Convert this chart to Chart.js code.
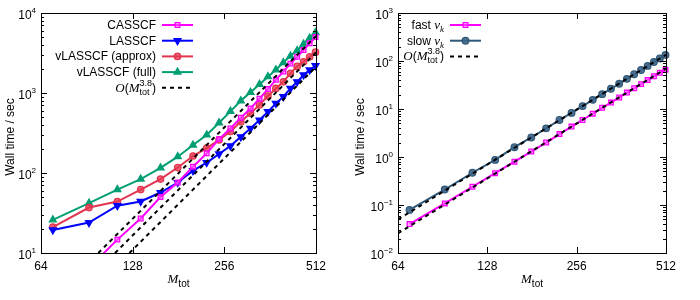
<!DOCTYPE html>
<html>
<head>
<meta charset="utf-8">
<script src="https://cdn.jsdelivr.net/npm/chart.js@4.4.1/dist/chart.umd.min.js"></script>
<style>
html, body { margin: 0; padding: 0; background: #fff; }
#wrap { position: relative; width: 700px; height: 300px; }
canvas { position: absolute; top: 0; }
#left { left: 0; }
#right { left: 350px; }
</style>
</head>
<body>
<div id="wrap">
    <canvas id="left" width="350" height="300"></canvas>
    <canvas id="right" width="350" height="300"></canvas>
</div>
<script>
// M_tot values shared by both panels
const mTot = [70, 92, 114, 136, 158, 180, 202, 224, 246, 268, 290, 312, 334, 356, 378, 400, 422, 444, 466, 488, 510];
const xTicks = [64, 128, 256, 512];

// left panel: wall time / sec
const casscf      = [null, 6.5, 14.7, 27, 50, 76, 120, 176, 265, 360, 490, 640, 850, 1120, 1460, 1850, 2330, 2830, 3450, 4180, 5000];
const lasscf      = [19.4, 24, 39, 44, 57, 76, 107, 135, 173, 218, 283, 361, 459, 584, 740, 900, 1140, 1380, 1680, 1940, 2190];
const vlassApprox = [21, 37, 44, 62, 84, 117, 163, 205, 259, 330, 437, 560, 710, 916, 1140, 1380, 1760, 2150, 2460, 2830, 3240];
const vlassFull   = [26, 42, 62, 84, 116, 160, 224, 299, 425, 590, 800, 1020, 1280, 1600, 1950, 2400, 2900, 3400, 4100, 4850, 5700];

// left panel O(M^3.8) guide lines: [start, end]
const casscfFitM = [98.7, 512], casscfFitT = [10, 5150];
const approxFitM = [112, 512],  approxFitT = [10, 3200];
const lasscfFitM = [124.9, 512], lasscfFitT = [10, 2120];

// right panel
const fastVk = [0.040, 0.108, 0.24, 0.46, 0.80, 1.30, 2.0, 3.0, 4.3, 5.9, 8.0, 10.6, 13.6, 17.4, 22, 27, 33, 40, 48, 57, 66];
const slowVk = [0.079, 0.21, 0.47, 0.87, 1.6, 2.55, 3.95, 5.9, 8.3, 11.5, 15.5, 20.4, 26.4, 33.5, 42.5, 53, 65, 79, 95, 113, 134];
const fastFitM = [64, 512], fastFitT = [0.0257, 69.5];
const slowFitM = [64, 512], slowFitT = [0.050, 135];

const SANS = '"Liberation Sans", Arial, sans-serif';
const SERIF = '"Liberation Serif", "Times New Roman", serif';

function pts(xs, ys) {
    return xs.map((x, i) => ({ x: x, y: ys[i] })).filter(p => p.y !== null);
}

function dataSet(s) {
    return {
        label: s.label,
        data: pts(mTot, s.data),
        borderColor: s.color,
        backgroundColor: s.fill,
        borderWidth: 2,
        pointStyle: s.style,
        pointRadius: s.r,
        pointRotation: s.rot || 0,
        pointBorderColor: s.color,
        pointBackgroundColor: s.fill,
        pointBorderWidth: 1.3,
        tension: 0,
        order: 1,
        clip: { left: 0, top: 6, right: 6, bottom: 0 }
    };
}

function fitSet(xs, ys) {
    return {
        data: pts(xs, ys),
        borderColor: '#000',
        borderWidth: 2,
        borderDash: [4, 4],
        pointRadius: 0,
        tension: 0,
        order: 0,
        clip: 0
    };
}

// draws a list of text parts; part = [text, font, dy] or {sup, sub, font}
function richText(ctx, parts, x, y, align) {
    const widths = parts.map(p => {
        if (Array.isArray(p)) { ctx.font = p[1]; return ctx.measureText(p[0]).width; }
        ctx.font = p.font;
        return Math.max(ctx.measureText(p.sup).width, ctx.measureText(p.sub).width);
    });
    const total = widths.reduce((a, b) => a + b, 0);
    let cx = align === 'right' ? x - total : align === 'center' ? x - total / 2 : x;
    ctx.textAlign = 'left';
    ctx.textBaseline = 'alphabetic';
    parts.forEach((p, i) => {
        if (Array.isArray(p)) {
            ctx.font = p[1];
            ctx.fillText(p[0], cx, y + (p[2] || 0));
        } else {
            ctx.font = p.font;
            ctx.fillText(p.sup, cx, y - 6);
            ctx.fillText(p.sub, cx, y + 3);
        }
        cx += widths[i];
    });
}

function expLabel(e) {
    return [['10', '12px ' + SANS, 0], [String(e).replace('-', '\u2212'), '8px ' + SANS, -6]];
}

function makePlugin(cfg) {
    return {
        id: 'gnuframe',
        afterDatasetsDraw(chart) {
            const ctx = chart.ctx;
            const a = chart.chartArea;
            const xs = chart.scales.x, ys = chart.scales.y;
            ctx.save();
            ctx.strokeStyle = '#000';
            ctx.lineWidth = 1;
            ctx.setLineDash([]);

            // y ticks, major + minor, both sides
            ctx.beginPath();
            for (let d = cfg.yMinExp; d <= cfg.yMaxExp; d++) {
                for (let k = 1; k <= 9; k++) {
                    if (d === cfg.yMaxExp && k > 1) break;
                    const py = Math.round(ys.getPixelForValue(k * Math.pow(10, d))) + 0.5;
                    const len = k === 1 ? 6 : 3;
                    ctx.moveTo(a.left, py); ctx.lineTo(a.left + len, py);
                    ctx.moveTo(a.right, py); ctx.lineTo(a.right - len, py);
                }
            }
            // x ticks, bottom + top
            xs.ticks.forEach(t => {
                const px = Math.round(xs.getPixelForValue(t.value)) + 0.5;
                ctx.moveTo(px, a.bottom); ctx.lineTo(px, a.bottom - 6);
                ctx.moveTo(px, a.top); ctx.lineTo(px, a.top + 6);
            });
            ctx.stroke();

            ctx.strokeRect(Math.round(a.left) + 0.5, Math.round(a.top) + 0.5,
                Math.round(a.right - a.left), Math.round(a.bottom - a.top));

            ctx.fillStyle = '#000';
            // y tick labels
            ys.ticks.forEach(t => {
                const e = Math.round(Math.log10(t.value));
                const py = ys.getPixelForValue(t.value);
                richText(ctx, expLabel(e), a.left - 5, py + 6, 'right');
            });
            // x tick labels
            ctx.font = '12px ' + SANS;
            ctx.textAlign = 'center';
            ctx.textBaseline = 'alphabetic';
            xs.ticks.forEach(t => {
                ctx.fillText(String(t.value), xs.getPixelForValue(t.value), a.bottom + 17);
            });

            // axis titles
            const cxm = (a.left + a.right) / 2;
            richText(ctx, [['M', 'italic 13px ' + SERIF, 0], ['tot', '10px ' + SANS, 4]], cxm, a.bottom + 30, 'center');
            ctx.save();
            ctx.translate(cfg.yTitleX, 137);
            ctx.rotate(-Math.PI / 2);
            ctx.font = '12px ' + SANS;
            ctx.textAlign = 'center';
            ctx.textBaseline = 'middle';
            ctx.fillText('Wall time / sec', 0, 0);
            ctx.restore();

            // legend, gnuplot style: text right-aligned, sample on the right
            cfg.legend.forEach((item, i) => {
                const y = cfg.legendY + i * 15.7;
                ctx.fillStyle = '#000';
                richText(ctx, item.parts, cfg.legendTextX, y + 4, 'right');
                ctx.beginPath();
                ctx.strokeStyle = item.color;
                ctx.lineWidth = 2;
                ctx.setLineDash(item.dash || []);
                ctx.moveTo(cfg.legendTextX + 6, y);
                ctx.lineTo(cfg.legendTextX + 37, y);
                ctx.stroke();
                ctx.setLineDash([]);
                if (item.style) {
                    ctx.fillStyle = item.fill;
                    ctx.strokeStyle = item.color;
                    ctx.lineWidth = 1.3;
                    Chart.helpers.drawPoint(ctx, {
                        pointStyle: item.style, radius: item.r, rotation: item.rot || 0, borderWidth: 1.3
                    }, cfg.legendTextX + 21.5, y);
                }
            });
            ctx.restore();
        }
    };
}

function makeChart(id, cfg) {
    new Chart(document.getElementById(id), {
        type: 'line',
        data: { datasets: cfg.datasets },
        options: {
            responsive: false,
            animation: false,
            layout: { padding: { left: 0, right: 34, top: 13, bottom: 0 } },
            plugins: { legend: { display: false }, tooltip: { enabled: false } },
            scales: {
                x: {
                    type: 'logarithmic', min: 64, max: 512,
                    grid: { display: false }, border: { display: false }, ticks: { display: false },
                    afterBuildTicks: s => { s.ticks = xTicks.map(v => ({ value: v })); },
                    afterFit: s => { s.height = 47; }
                },
                y: {
                    type: 'logarithmic', min: Math.pow(10, cfg.yMinExp), max: Math.pow(10, cfg.yMaxExp),
                    grid: { display: false }, border: { display: false }, ticks: { display: false },
                    afterBuildTicks: s => {
                        const t = [];
                        for (let e = cfg.yMinExp; e <= cfg.yMaxExp; e++) t.push({ value: Math.pow(10, e) });
                        s.ticks = t;
                    },
                    afterFit: s => { s.width = cfg.yWidth; }
                }
            }
        },
        plugins: [makePlugin(cfg)]
    });
}

const fitLabel = [
    ['O', 'italic 13px ' + SERIF, 0], ['(', '12px ' + SANS, 0], ['M', 'italic 13px ' + SERIF, 0],
    { sup: '3.8', sub: 'tot', font: '9px ' + SANS }, [')', '12px ' + SANS, 0]
];

const leftSeries = [
    { label: 'CASSCF', data: casscf, color: '#ff00ff', fill: 'rgba(255,120,255,0.45)', style: 'rect', r: 3.3 },
    { label: 'LASSCF', data: lasscf, color: '#0000ff', fill: '#0000ff', style: 'triangle', r: 4, rot: 180 },
    { label: 'vLASSCF (approx)', data: vlassApprox, color: '#e3354f', fill: 'rgba(227,53,79,0.75)', style: 'circle', r: 3.2 },
    { label: 'vLASSCF (full)', data: vlassFull, color: '#009e73', fill: '#009e73', style: 'triangle', r: 4 }
];

makeChart('left', {
    yMinExp: 1, yMaxExp: 4, yWidth: 41, yTitleX: 11,
    legendTextX: 156, legendY: 25,
    datasets: leftSeries.map(dataSet).concat([
        fitSet(casscfFitM, casscfFitT), fitSet(approxFitM, approxFitT), fitSet(lasscfFitM, lasscfFitT)
    ]),
    legend: leftSeries.map(s => ({ parts: [[s.label, '12px ' + SANS, 0]], color: s.color, fill: s.fill, style: s.style, r: s.r, rot: s.rot }))
        .concat([{ parts: fitLabel, color: '#000', dash: [4, 4] }])
});

const rightSeries = [
    { label: 'fast', data: fastVk, color: '#ff00ff', fill: 'rgba(255,120,255,0.45)', style: 'rect', r: 3.3 },
    { label: 'slow', data: slowVk, color: '#2f5878', fill: 'rgba(60,100,135,0.9)', style: 'circle', r: 3.3 }
];

makeChart('right', {
    yMinExp: -2, yMaxExp: 3, yWidth: 48, yTitleX: 11,
    legendTextX: 94, legendY: 25,
    datasets: rightSeries.map(dataSet).concat([
        fitSet(fastFitM, fastFitT), fitSet(slowFitM, slowFitT)
    ]),
    legend: rightSeries.map(s => ({
        parts: [[s.label + ' ', '12px ' + SANS, 0], ['v', 'italic 13px ' + SERIF, 0], ['k', 'italic 9px ' + SERIF, 3]],
        color: s.color, fill: s.fill, style: s.style, r: s.r
    })).concat([{ parts: fitLabel, color: '#000', dash: [4, 4] }])
});
</script>
</body>
</html>
